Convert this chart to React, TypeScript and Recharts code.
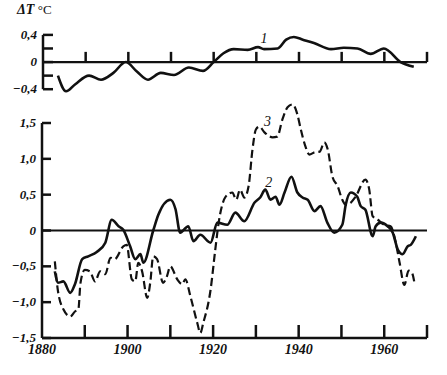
import React from "react";
import { LineChart, Line, XAxis, YAxis, ReferenceLine, ReferenceDot } from "recharts";

// curve 1 (top panel)
const years1 = [1883.5, 1885.4, 1887.5, 1890.8, 1893.6, 1896.5, 1899.4, 1902, 1904.6, 1907.6, 1910.7, 1914.2, 1917.5, 1920, 1922.3, 1924.7, 1928, 1930.4, 1931.8, 1935, 1937, 1938.8, 1940.9, 1943.5, 1947.5, 1950.5, 1953.7, 1956.8, 1959.9, 1963.8, 1966.9];
const values1 = [-0.2, -0.43, -0.33, -0.2, -0.26, -0.16, 0.0, -0.14, -0.26, -0.16, -0.19, -0.08, -0.13, 0.0, 0.13, 0.19, 0.18, 0.22, 0.19, 0.2, 0.33, 0.37, 0.33, 0.28, 0.19, 0.21, 0.2, 0.12, 0.2, 0.0, -0.07];

// curve 2 (solid, bottom panel)
const years2 = [1883, 1883.7, 1885, 1886.6, 1887.7, 1889.4, 1890.8, 1892.8, 1894.8, 1896.3, 1897.9, 1899, 1900.6, 1901.8, 1903, 1903.7, 1906, 1907.2, 1910, 1911.2, 1912.3, 1914.2, 1915.4, 1917, 1919.4, 1921, 1923.3, 1925.2, 1927.3, 1929.7, 1931, 1932.2, 1933.4, 1934.6, 1935.5, 1936.7, 1938.3, 1939.7, 1940.9, 1942.1, 1943.7, 1945.1, 1946.7, 1948.3, 1950.2, 1951, 1952.2, 1953.7, 1954.5, 1955.6, 1957.3, 1958, 1959.2, 1960.8, 1962, 1963.2, 1964.3, 1965.5, 1966.2, 1967.4];
const values2 = [-0.57, -0.73, -0.71, -0.87, -0.75, -0.4, -0.36, -0.3, -0.17, 0.15, 0.06, 0.01, -0.22, -0.4, -0.33, -0.45, 0.0, 0.22, 0.43, 0.3, -0.03, 0.06, -0.15, -0.06, -0.17, 0.11, 0.08, 0.25, 0.13, 0.39, 0.46, 0.57, 0.43, 0.47, 0.36, 0.53, 0.75, 0.53, 0.46, 0.43, 0.27, 0.34, 0.11, -0.03, 0.08, 0.36, 0.53, 0.47, 0.34, 0.29, -0.08, 0.06, 0.11, 0.06, -0.03, -0.27, -0.33, -0.22, -0.2, -0.08];

// curve 3 (dashed, bottom panel)
const years3 = [1883, 1883.7, 1885, 1886.6, 1887.7, 1888.5, 1889, 1890, 1891.2, 1892.4, 1893.6, 1894.8, 1896, 1897, 1899, 1899.8, 1901, 1901.8, 1902.5, 1903.4, 1904.6, 1905.3, 1906, 1906.9, 1908.3, 1909.2, 1910, 1911.6, 1912.8, 1913.5, 1914.7, 1916.3, 1917, 1917.7, 1919.4, 1920.5, 1921.3, 1922.3, 1922.9, 1924.5, 1925.4, 1926.3, 1927.3, 1928.3, 1929.2, 1930, 1930.8, 1932, 1933.9, 1935, 1936.2, 1937.4, 1938.6, 1939.7, 1940.5, 1941.6, 1942.5, 1943.7, 1944.9, 1946, 1946.8, 1947.9, 1949.1, 1950.2, 1951, 1952.2, 1953.3, 1955.6, 1956.5, 1957.3, 1958.5, 1960, 1961.5, 1962.7, 1963.6, 1964.7, 1965.7, 1966.4, 1967.1];
const values3 = [-0.43, -0.83, -1.1, -1.2, -1.13, -1.1, -0.73, -0.55, -0.57, -0.71, -0.57, -0.61, -0.38, -0.4, -0.22, -0.2, -0.68, -0.71, -0.45, -0.57, -0.94, -0.73, -0.36, -0.4, -0.73, -0.64, -0.5, -0.68, -0.75, -0.68, -0.92, -1.29, -1.43, -1.29, -0.83, -0.27, 0.11, 0.39, 0.47, 0.53, 0.43, 0.57, 0.46, 0.62, 1.13, 1.41, 1.45, 1.37, 1.3, 1.31, 1.55, 1.72, 1.76, 1.62, 1.41, 1.17, 1.06, 1.09, 1.1, 1.23, 1.13, 0.75, 0.62, 0.43, 0.36, 0.39, 0.47, 0.71, 0.57, 0.2, 0.15, 0.08, 0.06, -0.17, -0.45, -0.76, -0.56, -0.58, -0.74];

const xTicks = [1880, 1890, 1900, 1910, 1920, 1930, 1940, 1950, 1960, 1970];
const xLabels = [1880, 1900, 1920, 1940, 1960];
const topTicks = [-0.4, -0.2, 0, 0.2, 0.4];
const topLabels = [-0.4, 0, 0.4];
const bottomTicks = [-1.5, -1, -0.5, 0, 0.5, 1, 1.5];

const series1 = years1.map((year, i) => ({ year, v: values1[i] }));
const series2 = years2.map((year, i) => ({ year, v: values2[i] }));
const series3 = years3.map((year, i) => ({ year, v: values3[i] }));

const FONT = "Liberation Serif";
const INK = "#111";

const fmt = (v: number, digits: number) => {
  if (v === 0) return "0";
  const s = Math.abs(v).toFixed(digits).replace(".", ",");
  return v < 0 ? "\u2212" + s : s;
};

function YTick(props: any) {
  const { x, y, payload, labels, digits, len } = props;
  const v = payload.value;
  return (
    <g>
      <line x1={x} x2={x + len} y1={y} y2={y} stroke={INK} strokeWidth={2.5} />
      {labels.includes(v) && (
        <text x={x - 6} y={y + 4} textAnchor="end" style={{ fontFamily: FONT, fontStyle: "italic", fontWeight: 700, fontSize: 13 }} fill={INK}>
          {fmt(v, digits)}
        </text>
      )}
    </g>
  );
}

function XTick(props: any) {
  const { x, y, payload } = props;
  const v = payload.value;
  return (
    <g>
      {v !== 1880 && <line x1={x} x2={x} y1={y} y2={y - 13} stroke={INK} strokeWidth={2.5} />}
      {xLabels.includes(v) && (
        <text x={x} y={y + 16} textAnchor="middle" style={{ fontFamily: FONT, fontStyle: "italic", fontWeight: 700, fontSize: 14 }} fill={INK}>
          {v}
        </text>
      )}
    </g>
  );
}

const curveLabel = (value: string) => ({
  value,
  position: "center" as const,
  fill: INK,
  style: { fontFamily: FONT, fontStyle: "italic", fontSize: 14 },
});

export default function App() {
  return (
    <div style={{ position: "absolute", left: 0, top: 0, width: 447, height: 375, background: "#fff" }}>
      <div style={{ position: "absolute", left: 17, top: 2, fontFamily: FONT, fontSize: 14, color: INK }}>
        <b><i>ΔT</i></b> <span style={{ fontSize: 13 }}>°C</span>
      </div>

      <div style={{ position: "absolute", left: 0, top: 0 }}>
        <LineChart width={447} height={100} margin={{ top: 31.5, right: 20, bottom: 4, left: 13 }}>
          <XAxis type="number" dataKey="year" domain={[1880, 1970]} allowDataOverflow hide />
          <YAxis
            type="number"
            domain={[-0.5, 0.45]}
            allowDataOverflow
            width={30}
            ticks={topTicks}
            interval={0}
            axisLine={false}
            tickLine={false}
            tickSize={0}
            tickMargin={0}
            tick={<YTick labels={topLabels} digits={1} len={10} />}
          />
          <ReferenceLine segment={[{ x: 1880, y: -0.4 }, { x: 1880, y: 0.4 }]} stroke={INK} strokeWidth={2.5} ifOverflow="visible" />
          <ReferenceLine y={0} stroke={INK} strokeWidth={2.2} />
          {xTicks.slice(1).map((yr) => (
            <ReferenceLine key={yr} segment={[{ x: yr, y: 0 }, { x: yr, y: 0.15 }]} stroke={INK} strokeWidth={2.5} ifOverflow="visible" />
          ))}
          <Line data={series1} dataKey="v" type="monotone" stroke={INK} strokeWidth={2.6} dot={false} isAnimationActive={false} />
          <ReferenceDot x={1931.8} y={0.36} r={0} ifOverflow="visible" label={curveLabel("1")} />
        </LineChart>
      </div>

      <div style={{ position: "absolute", left: 0, top: 95 }}>
        <LineChart width={447} height={280} margin={{ top: 6.5, right: 20, bottom: 7, left: 12 }}>
          <XAxis
            type="number"
            dataKey="year"
            domain={[1880, 1970]}
            allowDataOverflow
            ticks={xTicks}
            interval={0}
            height={30}
            axisLine={{ stroke: INK, strokeWidth: 2.5 }}
            tickLine={false}
            tickSize={0}
            tickMargin={0}
            tick={<XTick />}
          />
          <YAxis
            type="number"
            domain={[-1.5, 1.8]}
            allowDataOverflow
            width={30}
            ticks={bottomTicks}
            interval={0}
            axisLine={false}
            tickLine={false}
            tickSize={0}
            tickMargin={0}
            tick={<YTick labels={bottomTicks} digits={1} len={9} />}
          />
          <ReferenceLine segment={[{ x: 1880, y: -1.5 }, { x: 1880, y: 1.5 }]} stroke={INK} strokeWidth={2.5} ifOverflow="visible" />
          <ReferenceLine y={0} stroke={INK} strokeWidth={2.2} />
          <Line data={series3} dataKey="v" type="monotone" stroke={INK} strokeWidth={2.2} strokeDasharray="8 4" dot={false} isAnimationActive={false} />
          <Line data={series2} dataKey="v" type="monotone" stroke={INK} strokeWidth={2.6} dot={false} isAnimationActive={false} />
          <ReferenceDot x={1933} y={0.68} r={0} ifOverflow="visible" label={curveLabel("2")} />
          <ReferenceDot x={1932.7} y={1.53} r={0} ifOverflow="visible" label={curveLabel("3")} />
        </LineChart>
      </div>
    </div>
  );
}
